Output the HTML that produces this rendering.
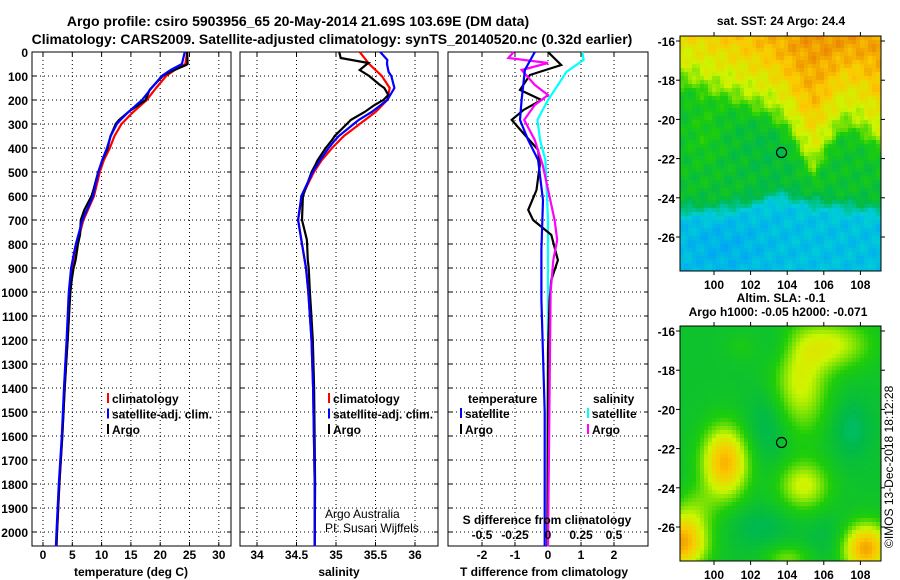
<!DOCTYPE html>
<html><head><meta charset="utf-8">
<style>
body{margin:0;background:#fff;}
svg{display:block;font-family:"Liberation Sans",sans-serif;font-weight:bold;}
</style></head>
<body>
<svg id="c" width="900" height="580" viewBox="0 0 900 580" xmlns="http://www.w3.org/2000/svg">
<text x="298" y="26" font-size="14" text-anchor="middle">Argo profile: csiro 5903956_65 20-May-2014 21.69S 103.69E (DM data)</text>
<text x="332" y="44" font-size="14" text-anchor="middle">Climatology: CARS2009. Satellite-adjusted climatology: synTS_20140520.nc (0.32d earlier)</text>
<text x="781" y="25" font-size="12" text-anchor="middle">sat. SST: 24 Argo: 24.4</text>
<text x="781" y="302" font-size="12" text-anchor="middle">Altim. SLA: -0.1</text>
<text x="778" y="316" font-size="12" text-anchor="middle">Argo h1000: -0.05 h2000: -0.071</text>
<text x="0" y="0" font-size="12" font-weight="normal" transform="translate(893,548) rotate(-90)">©IMOS 13-Dec-2018 18:12:28</text>
<g id="g"></g>
</svg>
<script>
// ---- data ----
const depthClim=[0,50,75,100,150,200,250,300,350,400,450,500,600,700,800,900,1000,1100,1200,1400,1600,1800,2000,2060];
const tempClim=[24.6,24.3,22.5,21.0,19.3,17.7,15.4,13.4,12.2,11.4,10.4,9.7,8.7,6.9,5.8,5.0,4.6,4.4,4.2,3.7,3.3,2.8,2.4,2.3];
const salClim=[35.3,35.42,35.5,35.58,35.68,35.65,35.5,35.3,35.1,34.95,34.82,34.72,34.57,34.52,34.57,34.62,34.65,34.67,34.69,34.71,34.72,34.73,34.73,34.73];
const depthDiffT=[0,54,96,158,200,242,283,346,408,471,575,658,700,762,867,950,1033,1242,2060];
const tDiffArgo=[0,0.4,-0.55,-0.85,-0.2,-0.75,-1.1,-0.7,-0.3,-0.25,-0.35,-0.6,-0.45,0.1,0.3,0.1,0.05,0,-0.02];
const depthDiffTsat=[0,75,200,283,367,450,617,825,1033,1500,2060];
const tDiffSat=[-0.4,-0.7,-0.8,-0.85,-0.6,-0.3,-0.15,-0.2,-0.2,-0.1,-0.1];
const depthDiffS=[0,25,46,75,137,179,221,283,367,471,700,783,867,1000,2060];
const sDiffArgo=[-0.26,-0.3,0,-0.2,-0.1,0,-0.1,-0.18,-0.1,-0.04,0.05,0.07,0.04,0.02,0];
const depthDiffSsat=[0,33,83,200,283,367,450,700,2060];
const sDiffSat=[0.26,0.27,0.14,0,-0.08,-0.06,-0.02,0,0];
const tTicks=[0,5,10,15,20,25,30];
const sTicks=[34,34.5,35,35.5,36];
const tdTicks=[-2,-1,0,1,2];
const sdTicks=[-0.5,-0.25,0,0.25,0.5];
const depthTicks=[0,100,200,300,400,500,600,700,800,900,1000,1100,1200,1300,1400,1500,1600,1700,1800,1900,2000];
const latTicks=[-16,-18,-20,-22,-24,-26];
const lonTicks=[100,102,104,106,108];
const floatLon=103.69, floatLat=-21.69;

const NS="http://www.w3.org/2000/svg";
const G=document.getElementById('g');
function mk(t,a,p){const e=document.createElementNS(NS,t);for(const k in a)e.setAttribute(k,a[k]);(p||G).appendChild(e);return e;}
function interp(xs,ys,x){for(let i=0;i<xs.length-1;i++){if(x<=xs[i+1]){const f=(x-xs[i])/(xs[i+1]-xs[i]);return ys[i]+f*(ys[i+1]-ys[i]);}}return ys[ys.length-1];}
function merge(a,b){return Array.from(new Set(a.concat(b))).sort((p,q)=>p-q);}
const TOP=52,BOT=546;
const yD=d=>TOP+d*0.24;
const xT=t=>43+t*5.86;
const xS=s=>257+(s-34)*79;
const xTD=t=>548+t*33;
const xSD=s=>548+s*132;

function panel(x0,x1,name,vt,vfn){
  const g=mk('g',{});
  
  
  depthTicks.forEach(d=>{mk('line',{x1:x0,x2:x1,y1:yD(d),y2:yD(d),stroke:'#000','stroke-dasharray':'1,3'},g);
    mk('line',{x1:x0,x2:x0+4,y1:yD(d),y2:yD(d),stroke:'#000'},g);mk('line',{x1:x1-4,x2:x1,y1:yD(d),y2:yD(d),stroke:'#000'},g);});
  vt.forEach(v=>{const x=vfn(v);mk('line',{x1:x,x2:x,y1:TOP,y2:BOT,stroke:'#000','stroke-dasharray':'1,3'},g);
    mk('line',{x1:x,x2:x,y1:TOP,y2:TOP+4,stroke:'#000'},g);mk('line',{x1:x,x2:x,y1:BOT-4,y2:BOT,stroke:'#000'},g);});
  mk('rect',{x:x0,y:TOP,width:x1-x0,height:BOT-TOP,fill:'none',stroke:'#000','stroke-width':1},g);
  return g;
}
function line(xs,ds,fx,col,name,g,w){
  let p='';ds.forEach((d,i)=>{p+=(i?'L':'M')+fx(xs[i]).toFixed(1)+','+yD(d).toFixed(1);});
  const e=mk('path',{d:p,fill:'none',stroke:col,'stroke-width':w||2.2},g);
  
  
}
function txt(x,y,s,size,anchor,name,fill){const e=mk('text',{x:x,y:y,'font-size':size,'text-anchor':anchor||'start',fill:fill||'#000'});e.textContent=s;
  
  return e;}

depthTicks.forEach(d=>txt(28,yD(d)+5,String(d),12,'end','depth-tick-label'));

const p1=panel(32,231,'temperature-panel',tTicks,xT);
const dTs=merge(depthClim,depthDiffTsat), dTa=merge(depthClim,depthDiffT);
const tSat=dTs.map(d=>interp(depthClim,tempClim,d)+interp(depthDiffTsat,tDiffSat,d));
const tArgo=dTa.map(d=>interp(depthClim,tempClim,d)+interp(depthDiffT,tDiffArgo,d));
line(tempClim,depthClim,xT,'#f00','temperature-climatology-line',p1);
line(tArgo,dTa,xT,'#000','temperature-argo-line',p1);
line(tSat,dTs,xT,'#00f','temperature-satellite-line',p1);
tTicks.forEach(t=>txt(xT(t),559,String(t),12,'middle','temperature-tick-label'));
txt(131,576,'temperature (deg C)',12,'middle','temperature-axis-title');

const p2=panel(240,438,'salinity-panel',sTicks,xS);
const dSs=merge(depthClim,depthDiffSsat), dSa=merge(depthClim,depthDiffS);
const sSat=dSs.map(d=>interp(depthClim,salClim,d)+interp(depthDiffSsat,sDiffSat,d));
const sArgo=dSa.map(d=>interp(depthClim,salClim,d)+interp(depthDiffS,sDiffArgo,d));
line(salClim,depthClim,xS,'#f00','salinity-climatology-line',p2);
line(sArgo,dSa,xS,'#000','salinity-argo-line',p2);
line(sSat,dSs,xS,'#00f','salinity-satellite-line',p2);
sTicks.forEach(t=>txt(xS(t),559,String(t),12,'middle','salinity-tick-label'));
txt(339,576,'salinity',12,'middle','salinity-axis-title');
txt(325,518,'Argo Australia',12,'start','credit-argo-australia').setAttribute('font-weight','normal');
txt(325,532,'PI: Susan Wijffels',12,'start','credit-pi').setAttribute('font-weight','normal');

const p3=panel(448,648,'difference-panel',tdTicks,xTD);
line(sDiffSat,depthDiffSsat,xSD,'#0ff','salinity-satellite-diff-line',p3);
line(tDiffArgo,depthDiffT,xTD,'#000','temperature-argo-diff-line',p3);
line(sDiffArgo,depthDiffS,xSD,'#f0f','salinity-argo-diff-line',p3);
line(tDiffSat,depthDiffTsat,xTD,'#00f','temperature-satellite-diff-line',p3);
tdTicks.forEach(t=>txt(xTD(t),559,String(t),12,'middle','t-diff-tick-label'));
sdTicks.forEach(t=>txt(xSD(t),539,String(t),12,'middle','s-diff-tick-label'));
txt(547,524,'S difference from climatology',12,'middle','s-diff-axis-title');
txt(544,576,'T difference from climatology',12,'middle','t-diff-axis-title');

function leg(x,y,col,s,name){const g=mk('g',{});
  mk('line',{x1:x,x2:x,y1:y-10,y2:y,stroke:col,'stroke-width':2},g);
  const t=mk('text',{x:x+4,y:y,'font-size':12},g);t.textContent=s;}
const lg1=[['#f00','climatology'],['#00f','satellite-adj. clim.'],['#000','Argo']];
lg1.forEach((l,i)=>{leg(108,403+i*15.5,l[0],l[1],'temperature-legend-entry');leg(329,403+i*15.5,l[0],l[1],'salinity-legend-entry');});
txt(468,403,'temperature',12,'start','diff-legend-temperature-header');
txt(593,403,'salinity',12,'start','diff-legend-salinity-header');
leg(461,418,'#00f','satellite','diff-legend-t-satellite');
leg(461,434,'#000','Argo','diff-legend-t-argo');
leg(588,418,'#0ff','satellite','diff-legend-s-satellite');
leg(588,434,'#f0f','Argo','diff-legend-s-argo');

// maps
const MX0=680,MX1=881;
const xLon=l=>714+(l-100)*18.3;
function cmap(v){
  const st=[[0,[0,150,255]],[0.2,[0,205,215]],[0.35,[0,185,75]],[0.5,[30,205,10]],[0.65,[205,245,0]],[0.8,[252,200,0]],[1,[225,105,0]]];
  v=Math.max(0,Math.min(1,v));
  for(let i=0;i<st.length-1;i++){if(v<=st[i+1][0]){const f=(v-st[i][0])/(st[i+1][0]-st[i][0]);
    const a=st[i][1],b=st[i+1][1];return 'rgb('+a.map((c,k)=>Math.round(c+f*(b[k]-c))).join(',')+')';}}
}
const gs=(lo,la,cx,cy,sx,sy)=>Math.exp(-((lo-cx)**2/(2*sx*sx)+(la-cy)**2/(2*sy*sy)));
const sig=x=>1/(1+Math.exp(-x));
const bLon=[98,99,101,103,104,105,105.5,106,107,108,109.2];
const bLat=[-18.3,-18.5,-19.2,-20,-20.8,-22.5,-23,-22,-20.6,-20.8,-21.8];
const cLon=[98,100,102,103.5,105,107,109.2];
const cLat=[-24.6,-24.6,-24.3,-23.8,-24.2,-24.4,-24.6];
function sst(lo,la){
  const d=la-interp(bLon,bLat,lo);
  const dc=la-interp(cLon,cLat,lo);
  let v=0.15+0.27*sig(dc*4)+0.1*sig(d*4)+0.12*sig((d-0.6)*2.5)+0.22*sig((d-2.6)*1.2);
  v+=0.05*gs(lo,la,106.5,-15.7,1.8,1.0);
  v-=0.04*gs(lo,la,103,-21.5,1.5,1.5);
  v+=0.06*gs(lo,la,99.5,-20.5,0.7,1.2);
  v-=0.05*gs(lo,la,100.5,-26.5,1.5,1);
  v+=0.025*Math.sin(lo*7.1+la*3.3)+0.025*Math.cos(lo*2.9-la*5.7);
  return v;
}
function sla(lo,la){
  let v=0.42;
  v+=0.42*gs(lo,la,100.6,-22.7,0.9,1.3);
  v+=0.24*gs(lo,la,104.7,-18.8,1.1,1.8);
  v+=0.22*gs(lo,la,106.5,-16.7,1.5,0.9);
  v+=0.24*gs(lo,la,104.9,-23.9,1.0,0.9);
  v+=0.45*gs(lo,la,98.2,-26.8,1.0,1.0);
  v+=0.45*gs(lo,la,108.3,-27.1,0.9,0.9);
  v+=0.15*gs(lo,la,104,-27.6,0.9,0.5);
  v+=0.1*gs(lo,la,99,-25,0.8,0.8);
  v-=0.1*gs(lo,la,103,-20.8,0.9,1.3);
  v-=0.1*gs(lo,la,107.5,-21,0.8,1.1);
  v-=0.08*gs(lo,la,102.5,-26,1.2,0.8);
  v-=0.06*gs(lo,la,106.2,-26.5,0.8,0.8);
  v-=0.06*gs(lo,la,103.5,-16.8,0.7,0.8);
  v+=0.05*gs(lo,la,101.5,-16.8,0.6,0.5);
  return v;
}
function mapPanel(y0,y1,f,name){
  const yLat=la=>y0+5+(-16-la)*19.6;
  const g=mk('g',{});
  const cs=4;
  for(let y=y0;y<y1;y+=cs)for(let x=MX0;x<MX1;x+=cs){
    const lo=100+(x+cs/2-714)/18.3, la=-16-(y+cs/2-y0-5)/19.6;
    mk('rect',{x:x,y:y,width:Math.min(cs,MX1-x),height:Math.min(cs,y1-y),fill:cmap(f(lo,la))},g);
  }
  mk('rect',{x:MX0,y:y0,width:MX1-MX0,height:y1-y0,fill:'none',stroke:'#000'},g);
  latTicks.forEach(la=>{const y=yLat(la);mk('line',{x1:MX0-4,x2:MX0,y1:y,y2:y,stroke:'#000'},g);mk('line',{x1:MX1,x2:MX1+4,y1:y,y2:y,stroke:'#000'},g);
    txt(675,y+5,String(la),12,'end','latitude-tick-label');});
  lonTicks.forEach(lo=>{const x=xLon(lo);mk('line',{x1:x,x2:x,y1:y0-4,y2:y0,stroke:'#000'},g);mk('line',{x1:x,x2:x,y1:y1,y2:y1+4,stroke:'#000'},g);
    txt(x,y1+18,String(lo),12,'middle','longitude-tick-label');});
  const c=mk('circle',{cx:xLon(floatLon),cy:yLat(floatLat),r:5,fill:'none',stroke:'#000','stroke-width':1.2},g);
  
  
}
mapPanel(36,271,sst,'sst-map');
mapPanel(326,561,sla,'sla-map');
</script>
</body></html>
